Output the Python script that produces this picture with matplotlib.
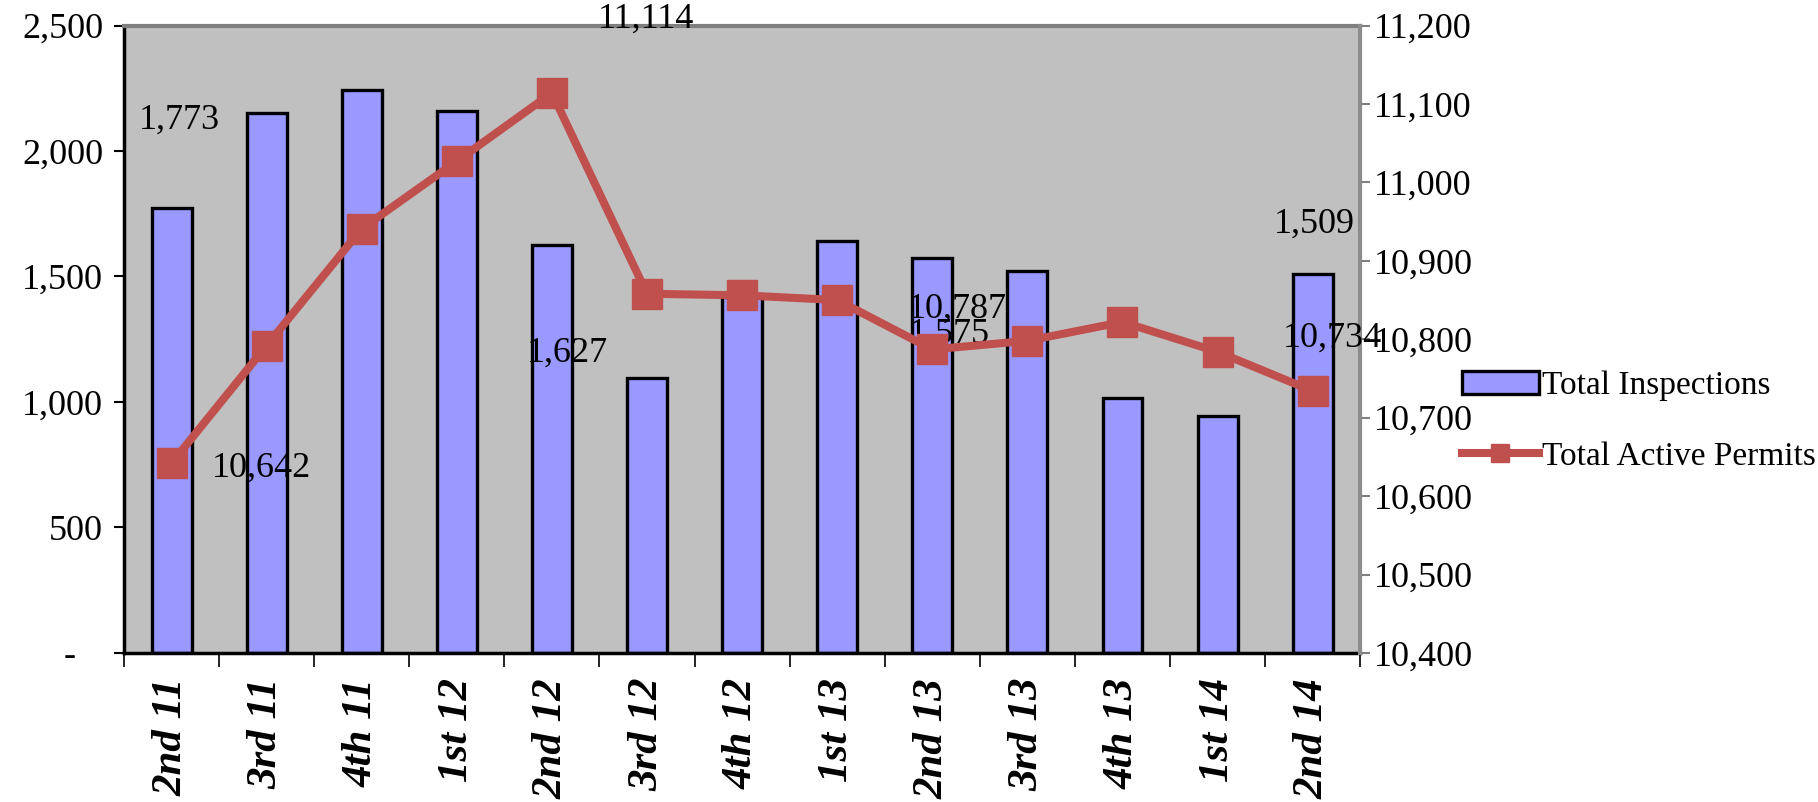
import matplotlib
matplotlib.use('Agg')
import matplotlib.pyplot as plt
import numpy as np

plt.rcParams['font.family'] = ['Liberation Serif', 'DejaVu Serif']

# quarterly totals
quarters = ['2nd 11', '3rd 11', '4th 11', '1st 12', '2nd 12', '3rd 12', '4th 12',
            '1st 13', '2nd 13', '3rd 13', '4th 13', '1st 14', '2nd 14']
inspections = [1773, 2150, 2245, 2160, 1627, 1095, 1420, 1640, 1575, 1520, 1015, 945, 1509]
active_permits = [10642, 10792, 10941, 11027, 11114, 10858, 10856, 10850, 10787,
                  10798, 10822, 10784, 10734]

left_ticks = [0, 500, 1000, 1500, 2000, 2500]
right_ticks = [10400, 10500, 10600, 10700, 10800, 10900, 11000, 11100, 11200]

# labelled points: (index, offset in points)
bar_labels = {0: (6, 63), 4: (11, -78), 8: (12, -55), 12: (1, 36)}
line_labels = {0: (65, -4), 4: (68, 53), 8: (18, 29), 12: (14, 38)}

fs = 26
bar_color = '#9999FF'
line_color = '#C0504D'

fig = plt.figure(figsize=(18.18, 8.02), dpi=100)
ax = fig.add_axes([0.0682, 0.1858, 0.680, 0.7824])
ax.set_facecolor('#C0C0C0')

x = np.arange(len(quarters))
ax.bar(x, inspections, width=0.42, color=bar_color, edgecolor='black',
       linewidth=2.4, label='Total Inspections', zorder=2)
ax.set_xlim(-0.5, len(quarters) - 0.5)
ax.set_ylim(0, 2500)
ax.set_yticks(left_ticks)
ax.set_yticklabels(['-   '] + ['{:,}'.format(t) for t in left_ticks[1:]], fontsize=fs)
ax.tick_params(axis='y', direction='out', length=7, width=1.5, pad=8)

# category ticks sit between the bars
ax.set_xticks(x)
ax.set_xticklabels(quarters, rotation=90, fontsize=31, fontweight='bold',
                   fontstyle='italic', va='top', ha='center')
ax.tick_params(axis='x', length=0, pad=18)
ax.set_xticks(np.arange(len(quarters) + 1) - 0.5, minor=True)
ax.tick_params(axis='x', which='minor', length=10, width=1.2, direction='out')

for side in ['left', 'bottom']:
    ax.spines[side].set_linewidth(2.5)
    ax.spines[side].set_color('black')
ax.spines['top'].set_color('#7F7F7F')
ax.spines['top'].set_linewidth(3)
ax.spines['right'].set_visible(False)

for i, (dx, dy) in bar_labels.items():
    ax.annotate('{:,}'.format(inspections[i]), (x[i], inspections[i]),
                xytext=(dx, dy), textcoords='offset points', ha='center',
                va='center', fontsize=fs, annotation_clip=False, zorder=3)

# permits on the secondary axis
ax2 = ax.twinx()
ax2.plot(x, active_permits, color=line_color, linewidth=5.8, marker='s',
         markersize=22, label='Total Active Permits')
ax2.set_ylim(10400, 11200)
ax2.set_yticks(right_ticks)
ax2.set_yticklabels(['{:,}'.format(t) for t in right_ticks], fontsize=fs)
ax2.tick_params(axis='y', direction='out', length=7, width=1.5, color='#7F7F7F', pad=3)
ax2.spines['right'].set_color('#8C8C8C')
ax2.spines['right'].set_linewidth(3)
for side in ['left', 'top', 'bottom']:
    ax2.spines[side].set_visible(False)

for i, (dx, dy) in line_labels.items():
    ax2.annotate('{:,}'.format(active_permits[i]), (x[i], active_permits[i]),
                 xytext=(dx, dy), textcoords='offset points', ha='center',
                 va='center', fontsize=fs, annotation_clip=False)

h1, l1 = ax.get_legend_handles_labels()
h2, l2 = ax2.get_legend_handles_labels()
fig.legend(h1 + h2, l1 + l2, loc='center left', bbox_to_anchor=(0.795, 0.475),
           frameon=False, fontsize=24, handlelength=2.3, handletextpad=0.1,
           labelspacing=1.2, borderpad=0, markerscale=0.6)

fig.savefig('out.png', dpi=100)
